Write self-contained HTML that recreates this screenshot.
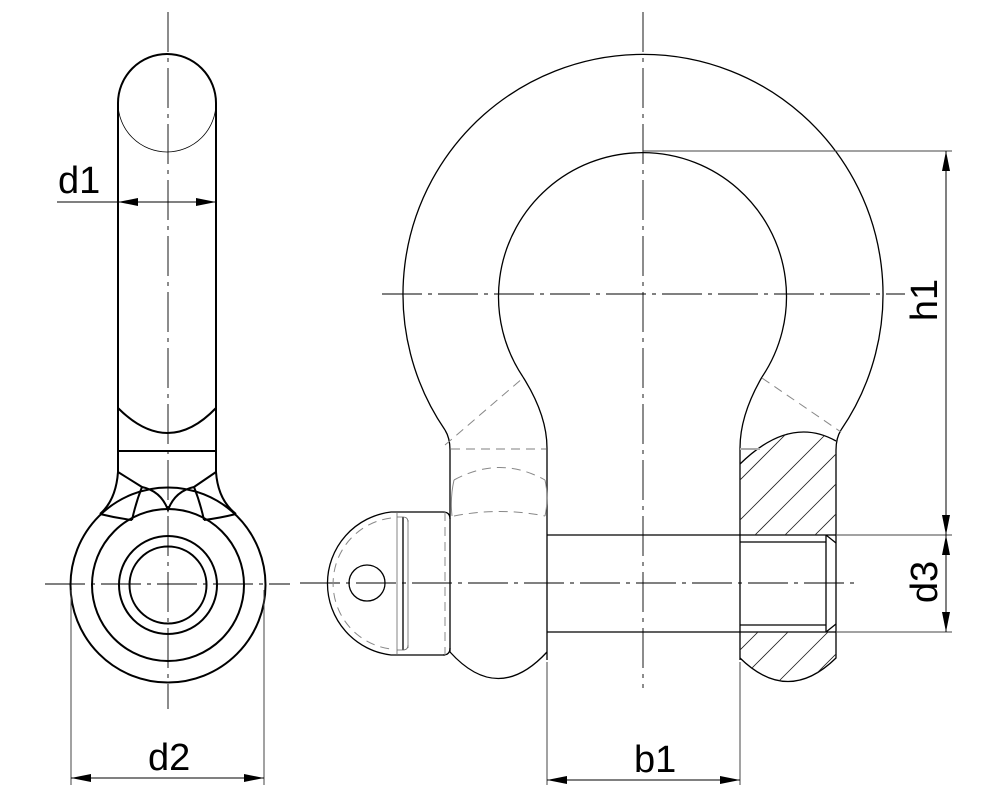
<!DOCTYPE html>
<html><head><meta charset="utf-8"><style>html,body{margin:0;padding:0;background:#fff}svg{display:block}</style></head>
<body>
<svg width="1000" height="800" viewBox="0 0 1000 800" xmlns="http://www.w3.org/2000/svg" font-family="'Liberation Sans', sans-serif">
<defs>
<marker id="a" viewBox="0 0 20 8" refX="20" refY="4" markerWidth="20" markerHeight="8" markerUnits="userSpaceOnUse" orient="auto-start-reverse"><path d="M0,0 L20,4 L0,8 z" fill="#000"/></marker>
</defs>
<g fill="none" stroke="#000">
<!-- LEFT VIEW -->
<g stroke-width="0.9" stroke-dasharray="40,6,4,6">
<line x1="168" y1="12" x2="168" y2="709"/>
<line x1="45" y1="584" x2="290" y2="584"/>
</g>
<g stroke-width="2">
<path d="M118,103 A49,49 0 0 1 216,103"/>
<line x1="118" y1="103" x2="118" y2="472"/>
<line x1="216" y1="103" x2="216" y2="472"/>
<path d="M118,408 Q168,458 216,408"/>
<line x1="118" y1="451" x2="216" y2="451"/>
<path d="M118,472 L142,487 Q161,491 168,510 Q175,491 194,487 L216,472"/>
<path d="M142,487 Q136,502 132,520"/>
<path d="M194,487 Q200,502 204,520"/>
<path d="M118,472 Q116,500 100,514"/>
<path d="M216,472 Q218,500 236,514"/>
<path d="M100,514 Q116,518 132,520"/>
<path d="M236,514 Q220,518 204,520"/>
<circle cx="168" cy="585" r="97.5"/>
<circle cx="168" cy="585" r="76"/>
<circle cx="168" cy="585" r="49"/>
<circle cx="168" cy="585" r="38.5"/>
</g>
<path d="M118,103 A49,49 0 0 0 216,103" stroke-width="0.8"/>
<!-- d1 -->
<line x1="57" y1="202" x2="216" y2="202" stroke-width="1"/>
<line x1="150" y1="202" x2="118" y2="202" stroke-width="1" marker-end="url(#a)"/>
<line x1="185" y1="202" x2="216" y2="202" stroke-width="1" marker-end="url(#a)"/>
<!-- d2 -->
<g stroke="#444" stroke-width="1">
<line x1="71" y1="590" x2="71" y2="785"/>
<line x1="264" y1="590" x2="264" y2="785"/>
</g>
<line x1="71" y1="778" x2="264" y2="778" stroke-width="1" marker-start="url(#a)" marker-end="url(#a)"/>

<!-- RIGHT VIEW -->
<g stroke-width="0.9" stroke-dasharray="40,6,4,6">
<line x1="643" y1="12" x2="643" y2="688"/>
<line x1="382" y1="294" x2="905" y2="294"/>
<line x1="300" y1="583" x2="856" y2="583"/>
</g>
<g stroke-width="1.3">
<path d="M445,430 A240,240 0 1 1 841,430"/>
<path d="M445,430 Q450,438 450,450 L450,652 Q498,705 547,652"/>
<path d="M841,430 Q836,438 836,450 L836,658 Q788,705 740,658"/>
<path d="M523,377 A144,144 0 1 1 762,377"/>
<path d="M523,377 Q547,415 547,448 L547,660"/>
<path d="M762,377 Q740,415 740,448 L740,660"/>
<path d="M740,464 Q790,415 836,441"/>
<line x1="547" y1="535" x2="836" y2="535"/>
<line x1="547" y1="632" x2="836" y2="632"/>
<line x1="826" y1="535" x2="826" y2="632"/>
<path d="M826,535 L836,543 M826,632 L836,624"/>
<path d="M445,655 L391,655 A72,72 0 0 1 391,512 L443,512 Q450,512 450,519"/>
<path d="M443,655 Q450,655 450,648"/>
<circle cx="367" cy="583" r="18"/>
<line x1="403" y1="517" x2="403" y2="650"/>
</g>
<g stroke-width="0.8" stroke="#666">
<line x1="740" y1="449" x2="760" y2="449" stroke="#aaa" stroke-width="2"/>
<line x1="397" y1="512" x2="397" y2="655"/>
<line x1="408" y1="520" x2="408" y2="648"/>
<path d="M397,517 L403,517 Q408,517 408,522 M397,650 L403,650 Q408,650 408,645"/>
</g>
<g stroke="#888" stroke-width="1" stroke-dasharray="9,6">
<line x1="445" y1="445" x2="523" y2="378"/>
<line x1="762" y1="378" x2="841" y2="432"/>
<line x1="451" y1="449" x2="546" y2="449" stroke="#aaa" stroke-width="1.5"/>
<path d="M454,480 Q500,455 545,480"/>
<path d="M454,516 Q500,507 545,516"/>
<path d="M391,518 A66,66 0 0 0 391,649"/>
<line x1="445" y1="512" x2="445" y2="655"/>
</g>
<g stroke="#888" stroke-width="1">
<path d="M454,480 Q450,498 452,516 M545,480 Q549,498 545,516"/>
</g>
<clipPath id="h1c"><path d="M740,464 Q790,415 836,441 L836,535 L740,535 Z"/></clipPath>
<clipPath id="h2c"><path d="M740,632 L836,632 L836,658 Q788,705 740,658 Z"/></clipPath>
<g stroke="#222" stroke-width="0.8" clip-path="url(#h1c)">
<path d="M700,520 L810,410 M720,540 L850,410 M750,540 L860,430 M780,540 L860,460 M810,540 L860,490 M700,490 L790,400"/>
</g>
<g stroke="#222" stroke-width="0.8" clip-path="url(#h2c)">
<path d="M700,720 L800,620 M740,720 L840,620 M770,720 L860,630 M800,720 L870,650 M700,690 L770,620"/>
</g>
<line x1="740" y1="542" x2="826" y2="542" stroke-width="1.2"/>
<line x1="740" y1="625" x2="826" y2="625" stroke-width="1.2"/>

<g stroke="#444" stroke-width="1">
<line x1="643" y1="151" x2="952" y2="151"/>
<line x1="836" y1="535" x2="952" y2="535"/>
<line x1="836" y1="632" x2="952" y2="632"/>
<line x1="547" y1="662" x2="547" y2="785"/>
<line x1="740" y1="662" x2="740" y2="785"/>
</g>
<line x1="946" y1="151" x2="946" y2="535" stroke-width="1" marker-start="url(#a)" marker-end="url(#a)"/>
<line x1="946" y1="535" x2="946" y2="632" stroke-width="1"/>
<line x1="946" y1="580" x2="946" y2="535" stroke-width="1" marker-end="url(#a)"/>
<line x1="946" y1="600" x2="946" y2="632" stroke-width="1" marker-end="url(#a)"/>
<line x1="547" y1="780" x2="740" y2="780" stroke-width="1" marker-start="url(#a)" marker-end="url(#a)"/>
</g>
<g fill="#000" font-size="38">
<text x="58" y="193">d1</text>
<text x="148" y="770">d2</text>
<text x="634" y="772">b1</text>
<text transform="translate(937,300) rotate(-90)" text-anchor="middle">h1</text>
<text transform="translate(937,582) rotate(-90)" text-anchor="middle">d3</text>
</g>
</svg>
</body></html>
